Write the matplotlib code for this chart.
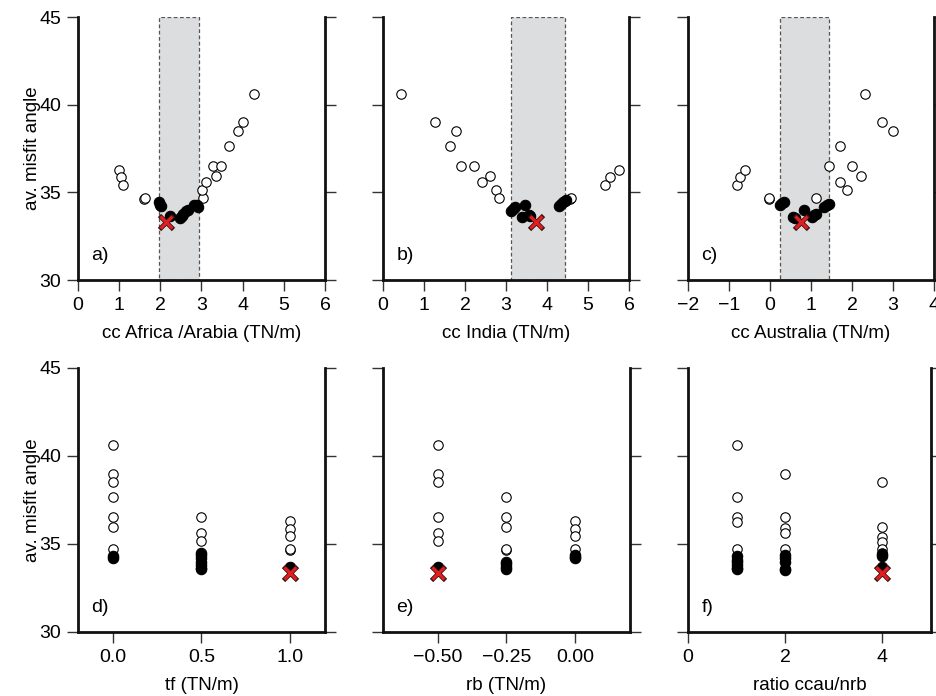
"""
Misfit angle vs. model parameters: six-panel figure, written to out.png.
"""

import matplotlib
matplotlib.use("Agg")
import matplotlib.pyplot as plt
from matplotlib.patches import Rectangle

plt.rcParams["font.family"] = ["Liberation Sans", "DejaVu Sans"]
plt.rcParams["font.size"] = 13.5

# --- Data ---
# a) cc Africa/Arabia
a_open_x = [0.99, 1.05, 1.10, 1.61, 1.63, 3.04, 3.02, 3.10, 3.36, 3.27, 3.47, 3.67, 3.88, 4.02, 4.28]
a_open_y = [36.28, 35.86, 35.42, 34.64, 34.68, 34.66, 35.11, 35.57, 35.93, 36.49, 36.49, 37.63, 38.49, 39.0, 40.62]
a_fill_x = [1.97, 2.0, 2.02, 2.23, 2.48, 2.52, 2.56, 2.62, 2.66, 2.82, 2.88, 2.92]
a_fill_y = [34.47, 34.3, 34.2, 33.63, 33.55, 33.63, 33.76, 33.92, 34.0, 34.3, 34.25, 34.18]
a_best = (2.13, 33.3)
a_range = (1.97, 2.94)

# b) cc India
b_open_x = [0.43, 1.26, 1.63, 1.77, 1.90, 2.23, 2.42, 2.62, 2.75, 2.82, 4.56, 4.58, 5.41, 5.54, 5.76]
b_open_y = [40.62, 39.0, 37.63, 38.49, 36.49, 36.49, 35.57, 35.93, 35.11, 34.66, 34.62, 34.68, 35.42, 35.86, 36.28]
b_fill_x = [3.11, 3.16, 3.21, 3.40, 3.46, 3.55, 3.59, 4.29, 4.34, 4.39, 4.44, 4.47]
b_fill_y = [33.95, 34.05, 34.18, 33.6, 34.3, 33.7, 33.67, 34.24, 34.33, 34.43, 34.5, 34.58]
b_best = (3.72, 33.3)
b_range = (3.11, 4.44)

# c) cc Australia
c_open_x = [-0.80, -0.73, -0.61, -0.03, -0.02, 1.11, 1.45, 1.70, 1.71, 1.88, 2.01, 2.22, 2.31, 2.72, 3.01]
c_open_y = [35.42, 35.86, 36.28, 34.64, 34.68, 34.66, 36.49, 37.63, 35.57, 35.11, 36.49, 35.93, 40.62, 39.0, 38.49]
c_fill_x = [0.25, 0.30, 0.34, 0.57, 0.62, 0.84, 1.02, 1.07, 1.11, 1.31, 1.38, 1.45]
c_fill_y = [34.3, 34.38, 34.47, 33.6, 33.55, 33.99, 33.6, 33.68, 33.74, 34.18, 34.25, 34.33]
c_best = (0.76, 33.3)
c_range = (0.25, 1.45)

# d) tf
d_open_x = [0.0, 0.0, 0.0, 0.0, 0.0, 0.0, 0.0, 0.5, 0.5, 0.5, 1.0, 1.0, 1.0, 1.0, 1.0]
d_open_y = [40.61, 38.98, 38.51, 37.67, 36.53, 35.98, 34.71, 36.51, 35.6, 35.16, 36.29, 35.87, 35.43, 34.67, 34.71]
d_fill_x = [0.0, 0.0, 0.5, 0.5, 0.5, 0.5, 0.5, 0.5, 0.5, 1.0]
d_fill_y = [34.3, 34.2, 34.5, 34.35, 34.2, 34.0, 33.8, 33.65, 33.6, 33.7]
d_best = (1.0, 33.33)

# e) rb
e_open_x = [-0.5, -0.5, -0.5, -0.5, -0.5, -0.5, -0.25, -0.25, -0.25, -0.25, -0.25, 0.0, 0.0, 0.0, 0.0]
e_open_y = [40.61, 38.98, 38.51, 36.51, 35.6, 35.16, 37.67, 36.53, 35.98, 34.67, 34.71, 36.29, 35.87, 35.43, 34.71]
e_fill_x = [-0.5, -0.25, -0.25, -0.25, -0.25, 0.0, 0.0, 0.0]
e_fill_y = [33.7, 34.0, 33.85, 33.7, 33.6, 34.35, 34.25, 34.2]
e_best = (-0.5, 33.33)

# f) ratio ccau/nrb
f_open_x = [1, 1, 1, 1, 1, 2, 2, 2, 2, 2, 4, 4, 4, 4, 4, 4]
f_open_y = [40.61, 37.67, 36.53, 36.27, 34.71, 38.98, 36.51, 35.89, 35.6, 34.71, 38.51, 35.94, 35.41, 35.14, 34.7, 34.5]
f_fill_x = [1, 1, 1, 1, 1, 1, 2, 2, 2, 2, 2, 4, 4, 4]
f_fill_y = [34.3, 34.1, 33.95, 33.8, 33.65, 33.6, 34.35, 34.2, 34.0, 33.6, 33.5, 34.45, 34.3, 33.7]
f_best = (4, 33.33)

YLIM = (30, 45)
YTICKS = [30, 35, 40, 45]


def style_axes(ax, xlim, xticks, xticklabels, xlabel, label, show_ylabels):
    ax.set_xlim(*xlim)
    ax.set_ylim(*YLIM)
    ax.set_xticks(xticks)
    ax.set_xticklabels(xticklabels)
    ax.set_yticks(YTICKS)
    if not show_ylabels:
        ax.set_yticklabels([])
    else:
        ax.set_ylabel("av. misfit angle")
        ax.yaxis.set_label_coords(-0.148, 0.5)
    ax.set_xlabel(xlabel, labelpad=8)

    ax.spines["top"].set_visible(False)
    for s in ["left", "right", "bottom"]:
        ax.spines[s].set_linewidth(2.0)
        ax.spines[s].set_color("#111111")
    ax.tick_params(axis="both", direction="out", length=8, width=1.0,
                   color="#333333", labelsize=14, pad=4)
    ax.tick_params(axis="y", right=True, labelright=False)

    ax.text(0.055, 0.06, label, transform=ax.transAxes, fontsize=14,
            ha="left", va="bottom")


def draw_points(ax, open_x, open_y, fill_x, fill_y, best):
    ax.plot(open_x, open_y, "o", ls="none", ms=6.8, mfc="white",
            mec="black", mew=0.8, zorder=3)
    ax.plot(fill_x, fill_y, "o", ls="none", ms=7.5, mfc="black",
            mec="black", mew=0.8, zorder=4)
    ax.plot([best[0]], [best[1]], "x", ms=10, mew=3.4, color="#3a1010", zorder=5)
    ax.plot([best[0]], [best[1]], "x", ms=9, mew=2.2, color="#e02020", zorder=6)


def draw_range(ax, rng):
    ax.add_patch(Rectangle((rng[0], YLIM[0]), rng[1] - rng[0], YLIM[1] - YLIM[0],
                           facecolor="#dcdddf", edgecolor="#555555",
                           linestyle=(0, (3, 2)), linewidth=0.9, zorder=1))


fig = plt.figure(figsize=(9.37, 6.96), dpi=100)

W = 937.0
H = 696.0


def add_ax(left, top, right, bottom):
    return fig.add_axes([left / W, 1 - bottom / H, (right - left) / W, (bottom - top) / H])


ax_a = add_ax(78, 17, 325, 280)
ax_b = add_ax(383, 17, 629, 280)
ax_c = add_ax(688, 17, 934, 280)
ax_d = add_ax(78, 368, 325, 632)
ax_e = add_ax(383, 368, 630, 632)
ax_f = add_ax(688, 368, 931, 632)

# top row
draw_range(ax_a, a_range)
draw_points(ax_a, a_open_x, a_open_y, a_fill_x, a_fill_y, a_best)
style_axes(ax_a, (0, 6), range(0, 7), [str(v) for v in range(0, 7)],
           "cc Africa /Arabia (TN/m)", "a)", True)

draw_range(ax_b, b_range)
draw_points(ax_b, b_open_x, b_open_y, b_fill_x, b_fill_y, b_best)
style_axes(ax_b, (0, 6), range(0, 7), [str(v) for v in range(0, 7)],
           "cc India (TN/m)", "b)", False)

draw_range(ax_c, c_range)
draw_points(ax_c, c_open_x, c_open_y, c_fill_x, c_fill_y, c_best)
style_axes(ax_c, (-2, 4), range(-2, 5), [str(v).replace("-", "\u2212") for v in range(-2, 5)],
           "cc Australia (TN/m)", "c)", False)

# bottom row
draw_points(ax_d, d_open_x, d_open_y, d_fill_x, d_fill_y, d_best)
style_axes(ax_d, (-0.2, 1.2), [0.0, 0.5, 1.0], ["0.0", "0.5", "1.0"],
           "tf (TN/m)", "d)", True)

draw_points(ax_e, e_open_x, e_open_y, e_fill_x, e_fill_y, e_best)
style_axes(ax_e, (-0.7, 0.2), [-0.5, -0.25, 0.0], ["\u22120.50", "\u22120.25", "0.00"],
           "rb (TN/m)", "e)", False)

draw_points(ax_f, f_open_x, f_open_y, f_fill_x, f_fill_y, f_best)
style_axes(ax_f, (0, 5), [0, 2, 4], ["0", "2", "4"],
           "ratio ccau/nrb", "f)", False)

fig.savefig("out.png", dpi=100)
